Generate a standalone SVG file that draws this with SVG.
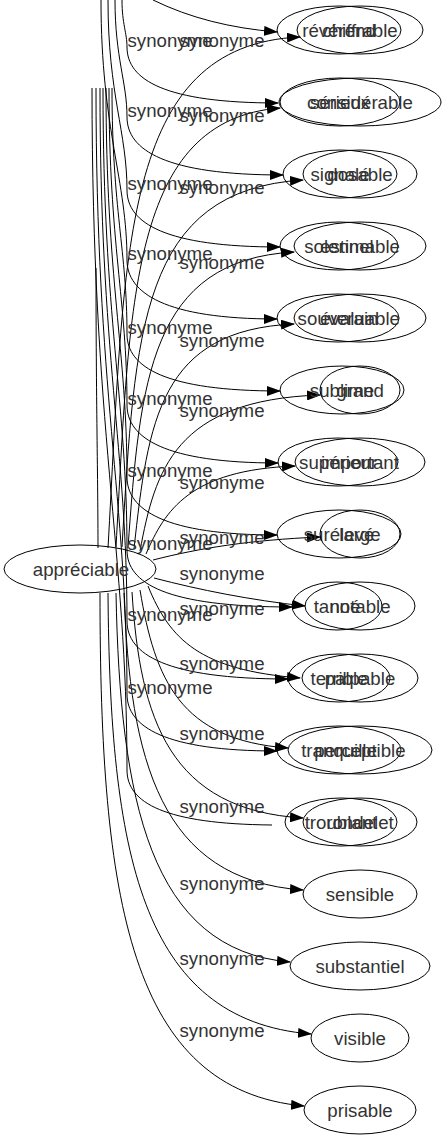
<svg xmlns="http://www.w3.org/2000/svg" width="447" height="1139" viewBox="0 0 447 1139">
<defs>
<marker id="ah" viewBox="0 0 14 10" refX="13" refY="5" markerWidth="14" markerHeight="10" markerUnits="userSpaceOnUse" orient="auto">
<path d="M0,0 L14,5 L0,10 Z" fill="#000"/>
</marker>
<style>
.n ellipse{fill:none;stroke:#000;stroke-width:1}
text{font-family:"Liberation Sans",Arial,sans-serif;font-size:18.67px;fill:#333;text-anchor:middle}
.e path{fill:none;stroke:#000;stroke-width:1}
.e path.a{marker-end:url(#ah)}
</style>
</defs>
<rect width="447" height="1139" fill="#fff"/>
<g class="e" id="edges">
<path class="a" d="M153,0 C190,18 230,28 277,32"/>
<path class="a" d="M122,0 C122,24 127,33 127,47 C127,80 165,103 278,103"/>
<path class="a" d="M115,0 C115,58 127,82 127,117 C127,150 165,175 283,175"/>
<path class="a" d="M108,0 C108,95 127,132 127,190 C127,223 165,247 280,247"/>
<path class="a" d="M101,0 C101,130 127,180 127,260 C127,293 165,319 277,319"/>
<path class="a" d="M112,88 C112,210 127,250 127,334 C127,367 165,391 280,391"/>
<path class="a" d="M109,88 C109,245 127,300 127,405 C127,438 165,463 278,463"/>
<path class="a" d="M106,88 C106,280 127,350 127,477 C127,510 165,535 277,535"/>
<path class="a" d="M103,88 C103,320 127,400 127,550 C127,583 165,607 292,607"/>
<path class="a" d="M100,88 C100,355 127,450 127,621 C127,654 165,679 288,679"/>
<path class="a" d="M96,88 C96,390 127,500 127,694 C127,727 165,751 277,751"/>
<path d="M92,88 C92,430 127,550 127,770 C127,803 165,824 272,825"/>
<path d="M96,268 C96,400 98,480 98,548"/>
<path class="a" d="M108,548 C125,250 120,45 300,37"/>
<path class="a" d="M116,547 C130,300 130,120 280,108"/>
<path class="a" d="M122,547 C135,330 140,190 303,180"/>
<path class="a" d="M128,548 C140,380 150,260 294,252"/>
<path class="a" d="M134,549 C148,420 160,330 294,324"/>
<path class="a" d="M140,551 C155,470 175,400 320,395"/>
<path class="a" d="M146,554 C165,510 190,470 295,466"/>
<path class="a" d="M153,560 C200,548 250,540 320,537"/>
<path class="a" d="M154,578 C200,590 250,600 305,606"/>
<path class="a" d="M148,586 C170,640 200,670 300,678"/>
<path class="a" d="M140,590 C155,680 180,740 288,748"/>
<path class="a" d="M132,592 C140,720 170,810 303,818"/>
<path class="a" d="M124,593 C130,760 160,880 303,890"/>
<path class="a" d="M116,593 C120,800 150,950 290,962"/>
<path class="a" d="M108,593 C110,850 140,1020 311,1034"/>
<path class="a" d="M100,593 C100,900 130,1090 304,1106"/>
</g>
<g id="labels">
<text x="170" y="47">synonyme</text>
<text x="170" y="117">synonyme</text>
<text x="170" y="190">synonyme</text>
<text x="170" y="260">synonyme</text>
<text x="170" y="334">synonyme</text>
<text x="170" y="405">synonyme</text>
<text x="170" y="477">synonyme</text>
<text x="170" y="550">synonyme</text>
<text x="170" y="621">synonyme</text>
<text x="170" y="694">synonyme</text>
<text x="222" y="47">synonyme</text>
<text x="222" y="122">synonyme</text>
<text x="222" y="194">synonyme</text>
<text x="222" y="269">synonyme</text>
<text x="222" y="347">synonyme</text>
<text x="222" y="417">synonyme</text>
<text x="222" y="489">synonyme</text>
<text x="222" y="544">synonyme</text>
<text x="222" y="580">synonyme</text>
<text x="222" y="615">synonyme</text>
<text x="222" y="670">synonyme</text>
<text x="222" y="740">synonyme</text>
<text x="222" y="813">synonyme</text>
<text x="222" y="890">synonyme</text>
<text x="222" y="965">synonyme</text>
<text x="222" y="1037">synonyme</text>
</g>
<g id="n-appreciable" class="n"><ellipse cx="80" cy="569" rx="76" ry="24"/><text x="81" y="576">appréciable</text></g>
<g id="a0" class="n"><ellipse cx="339" cy="30" rx="62" ry="24"/><text x="339" y="37">révérend</text></g>
<g id="a1" class="n"><ellipse cx="340" cy="102" rx="60" ry="24"/><text x="340" y="109">sérieux</text></g>
<g id="a2" class="n"><ellipse cx="340" cy="174" rx="57" ry="24"/><text x="340" y="181">signalé</text></g>
<g id="a3" class="n"><ellipse cx="339" cy="246" rx="59" ry="24"/><text x="339" y="253">solennel</text></g>
<g id="a4" class="n"><ellipse cx="338" cy="318" rx="61" ry="24"/><text x="338" y="325">souverain</text></g>
<g id="a5" class="n"><ellipse cx="342" cy="390" rx="62" ry="24"/><text x="342" y="397">sublime</text></g>
<g id="a6" class="n"><ellipse cx="338" cy="462" rx="60" ry="24"/><text x="338" y="469">supérieur</text></g>
<g id="a7" class="n"><ellipse cx="339" cy="534" rx="62" ry="24"/><text x="339" y="541">surélevé</text></g>
<g id="a8" class="n"><ellipse cx="337" cy="606" rx="45" ry="24"/><text x="337" y="613">tanné</text></g>
<g id="a9" class="n"><ellipse cx="339" cy="678" rx="51" ry="24"/><text x="339" y="685">terrible</text></g>
<g id="a10" class="n"><ellipse cx="339" cy="750" rx="62" ry="24"/><text x="339" y="757">tranquille</text></g>
<g id="a11" class="n"><ellipse cx="341" cy="822" rx="56" ry="24"/><text x="341" y="829">troublant</text></g>
<g id="b0" class="n"><ellipse cx="360" cy="30" rx="63" ry="24"/><text x="360" y="37">chiffrable</text></g>
<g id="b1" class="n"><ellipse cx="360" cy="102" rx="81" ry="24"/><text x="360" y="109">considérable</text></g>
<g id="b2" class="n"><ellipse cx="360" cy="174" rx="57" ry="24"/><text x="360" y="181">dosable</text></g>
<g id="b3" class="n"><ellipse cx="360" cy="246" rx="66" ry="24"/><text x="360" y="253">estimable</text></g>
<g id="b4" class="n"><ellipse cx="360" cy="318" rx="66" ry="24"/><text x="360" y="325">évaluable</text></g>
<g id="b5" class="n"><ellipse cx="360" cy="390" rx="40" ry="24"/><text x="360" y="397">grand</text></g>
<g id="b6" class="n"><ellipse cx="360" cy="462" rx="65" ry="24"/><text x="360" y="469">important</text></g>
<g id="b7" class="n"><ellipse cx="360" cy="534" rx="40" ry="24"/><text x="360" y="541">large</text></g>
<g id="b8" class="n"><ellipse cx="360" cy="606" rx="55" ry="24"/><text x="360" y="613">notable</text></g>
<g id="b9" class="n"><ellipse cx="360" cy="678" rx="58" ry="24"/><text x="360" y="685">palpable</text></g>
<g id="b10" class="n"><ellipse cx="360" cy="750" rx="72" ry="24"/><text x="360" y="757">perceptible</text></g>
<g id="b11" class="n"><ellipse cx="360" cy="822" rx="57" ry="24"/><text x="360" y="829">rondelet</text></g>
<g id="b12" class="n"><ellipse cx="360" cy="894" rx="57" ry="24"/><text x="360" y="901">sensible</text></g>
<g id="b13" class="n"><ellipse cx="360" cy="966" rx="70" ry="24"/><text x="360" y="973">substantiel</text></g>
<g id="b14" class="n"><ellipse cx="360" cy="1038" rx="49" ry="24"/><text x="360" y="1045">visible</text></g>
<g id="b15" class="n"><ellipse cx="360" cy="1110" rx="56" ry="24"/><text x="360" y="1117">prisable</text></g>
</svg>
